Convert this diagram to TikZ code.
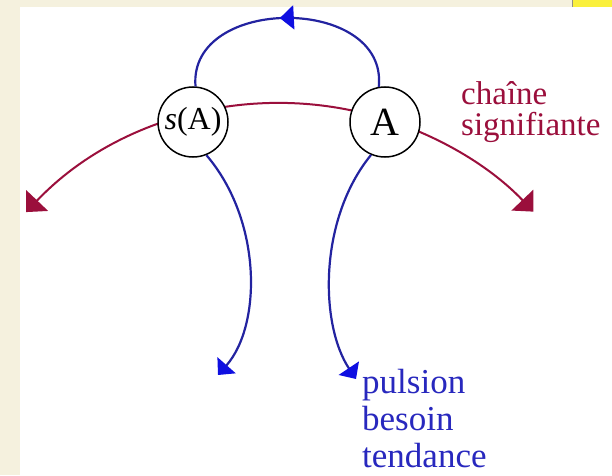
\documentclass[tikz,border=0pt]{standalone}
\usepackage{fontspec}
\setmainfont{Liberation Serif}
\usetikzlibrary{arrows.meta,decorations.markings}
\definecolor{cream}{RGB}{245,241,222}
\definecolor{hiyellow}{RGB}{250,240,60}
\definecolor{chainred}{RGB}{155,15,60}
\definecolor{lineblue}{RGB}{35,35,160}
\definecolor{tipblue}{RGB}{15,15,225}
\definecolor{textblue}{RGB}{40,40,190}
\tikzset{
  signode/.style={circle, draw=black, line width=1.5pt, fill=white, minimum size=70pt, inner sep=0pt},
  chainline/.style={draw=chainred, line width=2pt},
  driveline/.style={draw=lineblue, line width=2.2pt},
  redtip/.tip={Triangle[length=16pt, width=30pt, color=chainred]},
  bluetip/.tip={Triangle[length=13pt, width=24pt, color=tipblue]},
}
\begin{document}
\begin{tikzpicture}[x=1pt,y=1pt]
\useasboundingbox (0,0) rectangle (612,475);
% background
\fill[cream] (0,0) rectangle (612,475);
\fill[white] (20,0) rectangle (612,468);
\fill[hiyellow] (572,468) rectangle (612,475);
\draw[line width=1pt, cream!60!black] (572,468) -- (572,475);
% signifying chain (behind the nodes)
\coordinate (redL) at ([shift={(280,22)}]136.5:350);
\draw[chainline, redtip-redtip] (redL) arc[start angle=136.5, end angle=43.6, radius=350pt];
% nodes
\node[signode] (sA) at (193,353) {\fontsize{32}{36}\selectfont\textit{s}(A)};
\node[signode] (A) at (385,353) {\fontsize{40}{44}\selectfont A};
% top loop
\draw[driveline, postaction={decorate}, decoration={markings, mark=at position 0.53 with {\arrow{Triangle[length=14pt, width=24pt, color=tipblue]}}}]
  (A.100) .. controls (388,480) and (188,480) .. (sA.86);
% lower drives
\coordinate (endL) at (218,100);
\coordinate (endR) at (356,96);
\draw[driveline, -bluetip] (sA.-68) .. controls (262,255) and (262,150) .. (endL);
\draw[driveline, -bluetip] (A.-113) .. controls (318,255) and (320,150) .. (endR);
% labels
\node[anchor=base west, inner sep=0pt, align=left, text=chainred, font=\fontsize{33}{31}\selectfont] (chain) at (461,340) {chaîne\\signifiante};
\node[anchor=base west, inner sep=0pt, align=left, text=textblue, font=\fontsize{35}{37}\selectfont] (drive) at (362,8) {pulsion\\besoin\\tendance};
\end{tikzpicture}
\end{document}
